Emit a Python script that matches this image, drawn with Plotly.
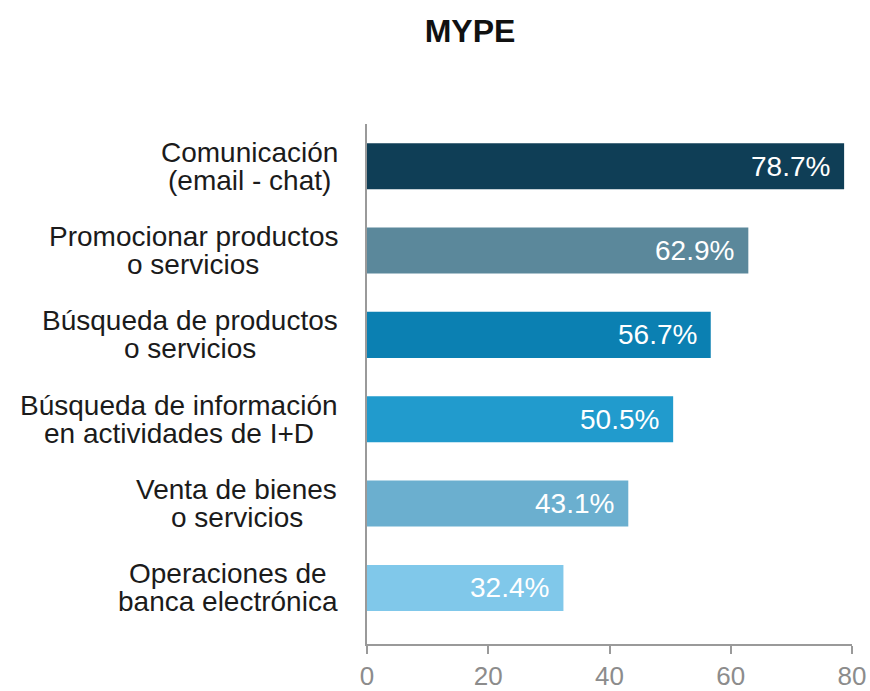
import plotly.graph_objects as go

# Data: share of MYPE using internet for each activity (%)
categories = [
    "Comunicación<br>(email - chat)",
    "Promocionar productos<br>o servicios",
    "Búsqueda de productos<br>o servicios",
    "Búsqueda de información<br>en actividades de I+D",
    "Venta de bienes<br>o servicios",
    "Operaciones de<br>banca electrónica",
]
values = [78.7, 62.9, 56.7, 50.5, 43.1, 32.4]
bar_colors = ["#0f3e56", "#5b889b", "#0b80b2", "#219bcd", "#6bafcf", "#80c8ea"]
x_ticks = [0, 20, 40, 60, 80]
title_text = "MYPE"

FONT = "Liberation Sans, Arial, Helvetica, sans-serif"
LABEL_SIZE = 28

# Arial / Liberation Sans advance widths (per 1000 em) for the label glyphs
ARIAL_W = {
    " ": 278, "(": 333, ")": 333, "-": 333, "+": 584,
    "a": 556, "b": 556, "c": 500, "d": 556, "e": 556, "f": 278, "g": 556,
    "h": 556, "i": 222, "j": 222, "k": 500, "l": 222, "m": 833, "n": 556,
    "o": 556, "p": 556, "q": 556, "r": 333, "s": 500, "t": 278, "u": 556,
    "v": 500, "w": 722, "x": 500, "y": 500, "z": 500,
    "á": 556, "é": 556, "í": 278, "ó": 556, "ú": 556,
    "B": 667, "C": 722, "D": 722, "I": 278, "O": 778, "P": 667, "V": 667,
}


def text_width(s, size):
    return sum(ARIAL_W.get(ch, 556) for ch in s) * size / 1000.0


fig = go.Figure(
    go.Bar(
        x=values,
        y=categories,
        orientation="h",
        marker=dict(color=bar_colors, line=dict(width=0)),
        width=0.546,
        hoverinfo="skip",
    )
)

annotations = []

# Category labels: each line centred within its block, block right-aligned to the axis
for cat in categories:
    lines = cat.split("<br>")
    block_w = max(text_width(ln, LABEL_SIZE) for ln in lines)
    n = len(lines)
    for i, ln in enumerate(lines):
        annotations.append(dict(
            x=0, xref="paper", y=cat, yref="y",
            text=ln, showarrow=False,
            xanchor="center", yanchor="middle",
            xshift=-(29 + block_w / 2),
            yshift=(n - 1) * 14 - i * 28,
            font=dict(family=FONT, size=LABEL_SIZE, color="#1b1b1b"),
        ))

# Value labels inside bar ends
for cat, v in zip(categories, values):
    annotations.append(dict(
        x=v, xref="x", y=cat, yref="y",
        text=f"{v:.1f}%", showarrow=False,
        xanchor="right", yanchor="middle", xshift=-12,
        font=dict(family=FONT, size=28, color="#ffffff"),
    ))

fig.update_layout(
    width=870, height=691,
    margin=dict(l=367, r=18, t=124, b=47, autoexpand=False),
    paper_bgcolor="white", plot_bgcolor="white",
    showlegend=False,
    annotations=annotations,
    font=dict(family=FONT),
    title=dict(
        text=f"<b>{title_text}</b>",
        xref="container", x=470 / 870, xanchor="center",
        yref="container", y=1 - 31 / 691, yanchor="middle",
        font=dict(family=FONT, size=32, color="#111111"),
    ),
    xaxis=dict(
        range=[0, 80], tickvals=x_ticks, ticktext=[str(t) for t in x_ticks],
        showgrid=False, zeroline=False, automargin=False,
        showline=True, linecolor="#9a9a9a", linewidth=1.5,
        ticks="outside", ticklen=8, tickwidth=1.5, tickcolor="#9a9a9a",
        tickfont=dict(family=FONT, size=26, color="#8c8c8c"),
        fixedrange=True,
    ),
    yaxis=dict(
        range=[5.665, -0.5], showticklabels=False, automargin=False,
        showgrid=False, zeroline=False,
        showline=True, linecolor="#9a9a9a", linewidth=1.5,
        ticks="", fixedrange=True,
    ),
)

fig.write_html("out.html", config={"displayModeBar": False})
